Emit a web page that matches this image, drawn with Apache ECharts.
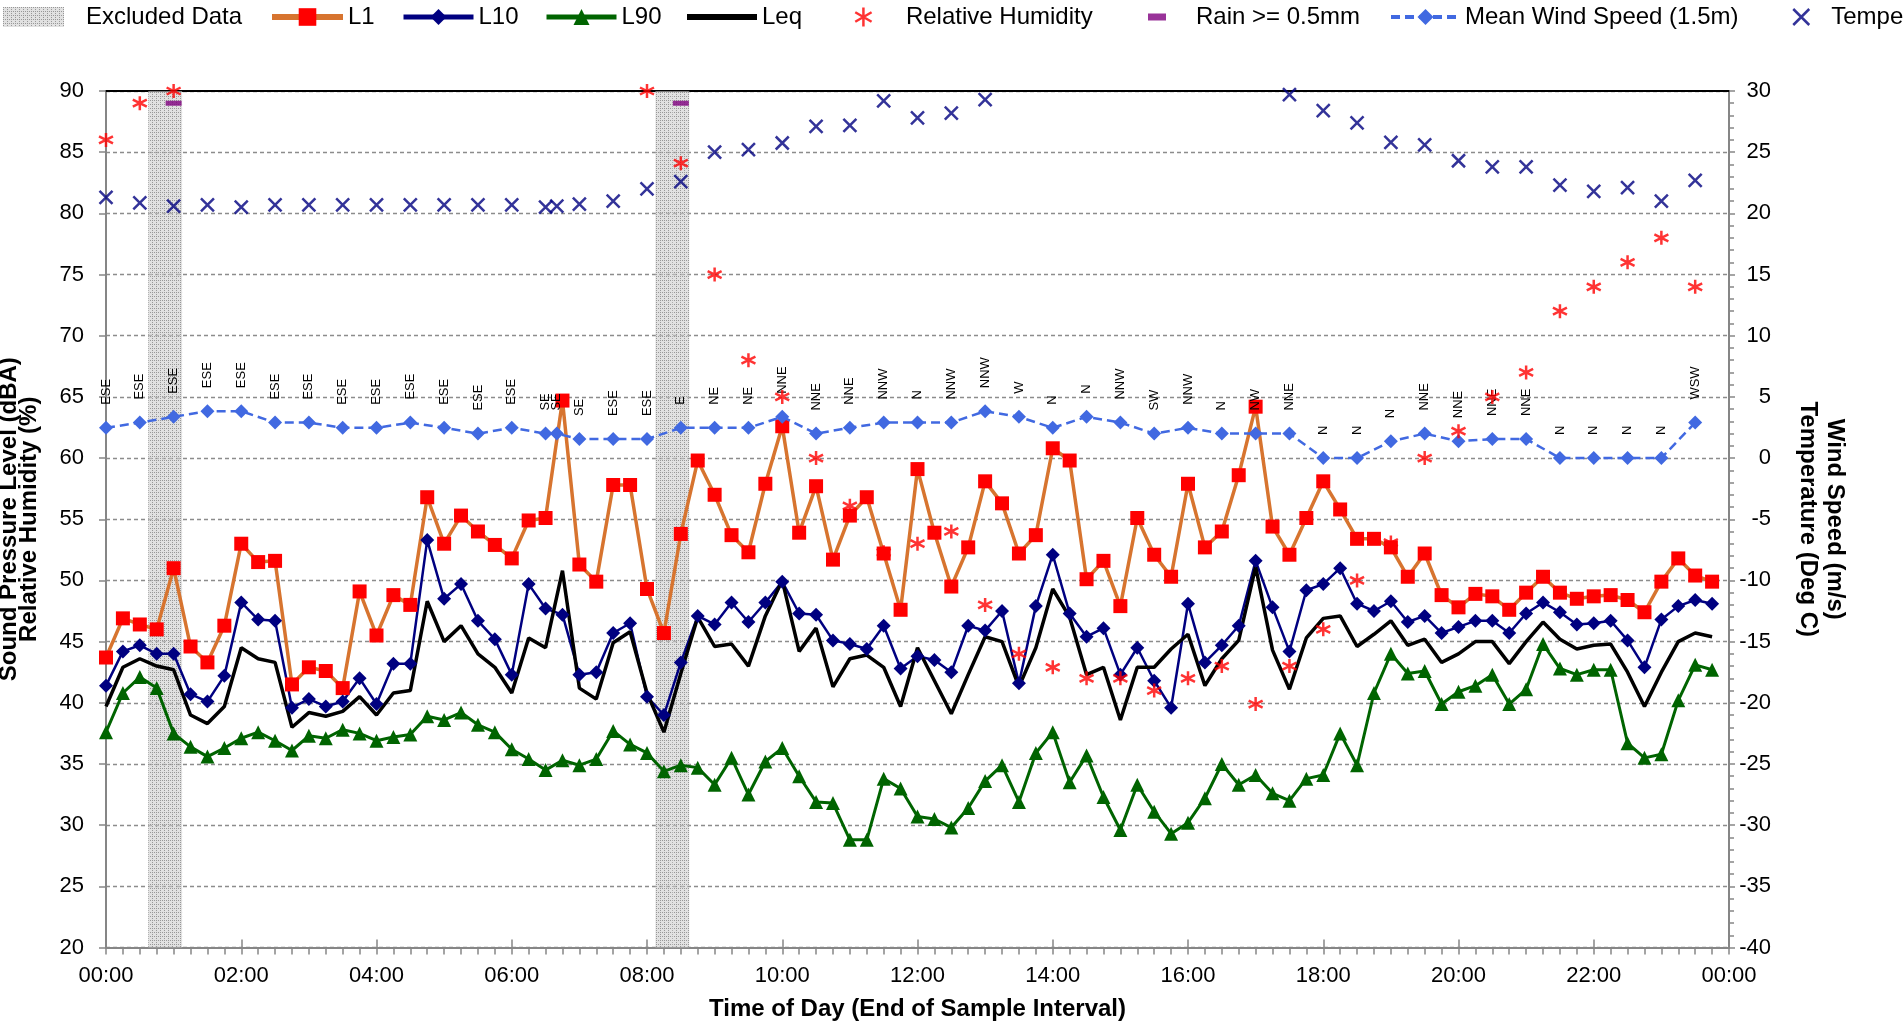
<!DOCTYPE html>
<html><head><meta charset="utf-8">
<script src="https://cdn.jsdelivr.net/npm/echarts@6/dist/echarts.min.js"></script>
<style>html,body{margin:0;padding:0;background:#fff}#c{width:1904px;height:1027px}</style>
</head><body><div id="c"></div>
<script>
// ---------- DATA ----------
const noiseTimes = ["00:00","00:15","00:30","00:45","01:00","01:15","01:30","01:45","02:00","02:15","02:30","02:45","03:00","03:15","03:30","03:45","04:00","04:15","04:30","04:45",
"05:00","05:15","05:30","05:45","06:00","06:15","06:30","06:45","07:00","07:15","07:30","07:45","08:00","08:15","08:30","08:45","09:00","09:15","09:30","09:45",
"10:00","10:15","10:30","10:45","11:00","11:15","11:30","11:45","12:00","12:15","12:30","12:45","13:00","13:15","13:30","13:45","14:00","14:15","14:30","14:45",
"15:00","15:15","15:30","15:45","16:00","16:15","16:30","16:45","17:00","17:15","17:30","17:45","18:00","18:15","18:30","18:45","19:00","19:15","19:30","19:45",
"20:00","20:15","20:30","20:45","21:00","21:15","21:30","21:45","22:00","22:15","22:30","22:45","23:00","23:15","23:30","23:45"];
const L1 = [43.7,46.9,46.4,46.0,51.0,44.6,43.3,46.3,53.0,51.5,51.6,41.5,42.9,42.6,41.2,49.1,45.5,48.8,48.0,56.8,
53.0,55.3,54.0,52.9,51.8,54.9,55.1,64.7,51.3,49.9,57.8,57.8,49.3,45.7,53.8,59.8,57.0,53.7,52.3,57.9,
62.6,53.9,57.7,51.7,55.3,56.8,52.2,47.6,59.1,53.9,49.5,52.7,58.1,56.3,52.2,53.7,60.8,59.8,50.1,51.6,
47.9,55.1,52.1,50.3,57.9,52.7,54.0,58.6,64.2,54.4,52.1,55.1,58.1,55.8,53.4,53.4,52.7,50.3,52.2,48.8,
47.8,48.9,48.7,47.6,49.0,50.3,49.0,48.5,48.7,48.8,48.4,47.4,49.9,51.8,50.4,49.9];
const L10 = [41.4,44.2,44.7,44.0,44.0,40.7,40.1,42.2,48.2,46.8,46.7,39.6,40.3,39.7,40.1,42.0,39.9,43.2,43.2,53.3,
48.5,49.7,46.7,45.2,42.3,49.7,47.7,47.2,42.3,42.5,45.7,46.5,40.5,39.0,43.3,47.1,46.4,48.2,46.6,48.2,
49.9,47.3,47.2,45.1,44.8,44.4,46.3,42.8,43.8,43.5,42.5,46.3,45.9,47.5,41.6,47.9,52.1,47.3,45.4,46.1,
42.3,44.5,41.8,39.6,48.1,43.3,44.7,46.3,51.6,47.8,44.2,49.2,49.7,51.0,48.1,47.5,48.3,46.6,47.1,45.7,
46.2,46.7,46.7,45.7,47.3,48.2,47.4,46.4,46.5,46.7,45.1,42.9,46.8,47.9,48.4,48.1];
const L90 = [37.6,40.8,42.1,41.2,37.5,36.4,35.6,36.3,37.1,37.6,36.9,36.1,37.3,37.1,37.8,37.5,36.9,37.2,37.4,38.9,
38.6,39.2,38.2,37.6,36.2,35.4,34.5,35.3,34.9,35.4,37.7,36.6,35.9,34.4,34.9,34.7,33.3,35.5,32.5,35.2,
36.3,34.0,31.9,31.8,28.8,28.8,33.8,33.0,30.7,30.5,29.8,31.4,33.6,34.9,31.9,35.9,37.6,33.5,35.7,32.3,
29.6,33.3,31.1,29.3,30.2,32.2,35.0,33.3,34.1,32.6,32.0,33.8,34.1,37.5,34.9,40.8,44.0,42.4,42.6,39.9,
40.9,41.4,42.3,39.9,41.1,44.8,42.8,42.3,42.7,42.7,36.7,35.5,35.8,40.2,43.1,42.7];
const Leq = [39.7,42.9,43.6,43.0,42.7,39.0,38.3,39.7,44.5,43.6,43.3,38.0,39.2,38.9,39.3,40.5,39.0,40.8,41.0,48.3,
45.0,46.3,44.0,42.9,40.8,45.3,44.5,50.8,41.2,40.3,44.9,45.8,40.8,37.6,42.4,47.0,44.6,44.8,43.0,47.1,
50.0,44.2,46.1,41.3,43.6,43.9,42.9,39.7,44.5,41.8,39.1,42.3,45.4,45.0,41.3,44.5,49.3,47.0,42.3,42.9,
38.6,42.9,42.9,44.4,45.6,41.4,43.6,45.1,51.1,44.3,41.1,45.3,46.9,47.1,44.6,45.6,46.7,44.7,45.2,43.3,
44.0,45.0,45.0,43.2,45.0,46.6,45.2,44.4,44.7,44.8,42.5,39.7,42.5,45.0,45.7,45.4];

const weatherTimes = ["00:00","00:30","01:00","01:30","02:00","02:30","03:00","03:30","04:00","04:30","05:00","05:30","06:00","06:30","06:40",
"07:00","07:30","08:00","08:30","09:00","09:30","10:00","10:30","11:00","11:30","12:00","12:30","13:00","13:30","14:00","14:30",
"15:00","15:30","16:00","16:30","17:00","17:30","18:00","18:30","19:00","19:30","20:00","20:30","21:00","21:30","22:00","22:30","23:00","23:30"];
const relHumidity = [86.0,89.0,90.0,null,null,null,null,null,null,null,null,null,null,null,null,
null,null,90.0,84.1,75.0,68.0,65.0,60.0,56.1,52.3,53.0,54.0,48.0,44.0,42.9,42.0,
42.0,41.0,42.0,43.0,39.9,43.0,46.0,50.0,53.1,60.0,62.2,65.0,67.0,72.0,74.0,76.0,78.0,74.0];
const windSpeed = [2.47,2.9,3.37,3.83,3.83,2.9,2.9,2.47,2.47,2.9,2.47,2.0,2.47,2.0,2.0,
1.55,1.55,1.55,2.47,2.47,2.47,3.37,2.0,2.47,2.9,2.9,2.9,3.83,3.37,2.47,3.37,
2.9,2.0,2.47,2.0,2.0,2.0,0,0,1.38,2.0,1.38,1.55,1.55,0,0,0,0,2.9];
const windDir = ["ESE","ESE","ESE","ESE","ESE","ESE","ESE","ESE","ESE","ESE","ESE","ESE","ESE","SE","SE",
"SE","ESE","ESE","E","NE","NE","NNE","NNE","NNE","NNW","N","NNW","NNW","W","N","N",
"NNW","SW","NNW","N","NW","NNE","N","N","N","NNE","NNE","NNE","NNE","N","N","N","N","WSW"];
const temperature = [21.3,20.85,20.6,20.7,20.5,20.7,20.7,20.7,20.7,20.7,20.7,20.7,20.7,20.5,20.6,
20.75,21.0,22.0,22.6,25.0,25.2,25.75,27.1,27.2,29.2,27.8,28.2,29.3,null,null,null,
null,null,null,null,null,29.7,28.4,27.4,25.8,25.6,24.3,23.8,23.8,22.3,21.8,22.1,21.0,22.7];
const rainTimes = ["01:00","08:30"];
const rainMarkLevel = 89;
const excludedTimes = ["00:45","01:00","08:15","08:30"];
const xTickLabels = ["00:00","02:00","04:00","06:00","08:00","10:00","12:00","14:00","16:00","18:00","20:00","22:00","00:00"];

// ---------- HELPERS ----------
const FONT = '"Liberation Sans", Arial, Helvetica, sans-serif';
const toH = t => { const p = t.split(':'); return (+p[0]) + (+p[1]) / 60; };
const pairs = (times, vals) => times.map((t, i) => [toH(t), vals[i]]).filter(d => d[1] != null);
const SAMPLE_HALF = 0.125; // half of a 15-minute sample interval, in hours

// hatch pattern for excluded data
const pc = document.createElement('canvas'); pc.width = 4; pc.height = 4;
const g = pc.getContext('2d');
g.fillStyle = 'rgba(205,205,205,0.6)'; g.fillRect(0, 0, 4, 4);
g.fillStyle = 'rgba(135,135,135,0.8)';
g.fillRect(0, 0, 1, 1); g.fillRect(2, 0, 1, 1); g.fillRect(0, 2, 1, 1);
const hatch = { image: pc, repeat: 'repeat' };

const xPath = 'path://M0,0L10,10M10,0L0,10';
const starPath = 'path://M5,0L5,10M0.7,2.5L9.3,7.5M0.7,7.5L9.3,2.5';

const chart = echarts.init(document.getElementById('c'), null, { renderer: 'canvas', width: 1904, height: 1027 });

function lg(item, left, w, h, pad, extra) {
  return Object.assign({
    show: true, left: left, top: 5, padding: 0, itemWidth: w, itemHeight: h, itemGap: 0,
    selectedMode: false, data: [item],
    textStyle: { fontFamily: FONT, fontSize: 24, color: '#000', padding: [0, 0, 0, pad] }
  }, extra || {});
}

const axisGray = '#868686';

const option = {
  animation: false,
  backgroundColor: '#ffffff',
  textStyle: { fontFamily: FONT },
  grid: { left: 106, right: 175, top: 91, bottom: 79.5, containLabel: false, outerBoundsMode: 'none' },
  legend: [
    lg({ name: 'Excluded Data', icon: 'rect' }, 3, 61, 20, 17),
    lg({ name: 'L1', lineStyle: { width: 6, color: '#d7742f' } }, 269, 71, 22, 0, { lineStyle: { width: 6 } }),
    lg({ name: 'L10', lineStyle: { width: 5, color: '#000080' } }, 401, 70, 20, 0, { lineStyle: { width: 5 } }),
    lg({ name: 'L90', lineStyle: { width: 5, color: '#006400' } }, 544, 70, 20, 0, { lineStyle: { width: 5 } }),
    lg({ name: 'Leq', icon: 'rect' }, 687, 70, 6, 0),
    lg({ name: 'Relative Humidity', icon: starPath, itemStyle: { color: 'rgba(0,0,0,0)', borderColor: '#ff0000', borderWidth: 2.5 } }, 854, 19, 19, 28),
    lg({ name: 'Rain >= 0.5mm', icon: 'rect' }, 1148, 18, 7, 25),
    lg({ name: 'Mean Wind Speed (1.5m)', lineStyle: { width: 4, color: '#4169e1', type: [9, 5] } }, 1389, 69, 20, 0, { lineStyle: { width: 4 } }),
    lg({ name: 'Temperature', icon: xPath, itemStyle: { color: 'rgba(0,0,0,0)', borderColor: '#000080', borderWidth: 2.5 } }, 1792, 16, 16, 17)
  ],
  xAxis: [
    {
      type: 'value', position: 'bottom', min: 0, max: 24, interval: 2,
      axisLine: { show: true, onZero: false, lineStyle: { color: axisGray, width: 2 } },
      axisTick: { show: true, length: 7, lineStyle: { color: axisGray, width: 1.5 } },
      minorTick: { show: true, splitNumber: 8, length: 7, lineStyle: { color: axisGray, width: 1.5 } },
      splitLine: { show: false }, minorSplitLine: { show: false },
      axisLabel: { fontSize: 22, color: '#000', margin: 17, fontFamily: FONT,
        formatter: v => xTickLabels[Math.round(v / 2)] },
      name: 'Time of Day (End of Sample Interval)', nameLocation: 'middle', nameGap: 50,
      nameTextStyle: { fontSize: 24, fontWeight: 'bold', color: '#000', fontFamily: FONT }
    },
    {
      type: 'value', position: 'top', min: 0, max: 24, interval: 2,
      axisLine: { show: true, onZero: false, lineStyle: { color: '#000', width: 2 } },
      axisTick: { show: false }, axisLabel: { show: false }, splitLine: { show: false }
    },
    {
      type: 'value', position: 'bottom', min: 0, max: 24, interval: 2,
      axisLine: { show: false, onZero: false },
      axisTick: { show: true, inside: true, length: 8, lineStyle: { color: axisGray, width: 1.5 } },
      axisLabel: { show: false }, splitLine: { show: false }
    }
  ],
  yAxis: [
    {
      type: 'value', position: 'left', min: 20, max: 90, interval: 5,
      axisLine: { show: true, onZero: false, lineStyle: { color: axisGray, width: 2 } },
      axisTick: { show: true, length: 7, lineStyle: { color: axisGray, width: 1.5 } },
      splitLine: { show: true, lineStyle: { color: '#8c8c8c', width: 1.3, type: [4, 3] } },
      axisLabel: { fontSize: 22, color: '#000', margin: 22, fontFamily: FONT },
      name: 'Sound Pressure Level (dBA)\nRelative Humidity (%)', nameLocation: 'middle', nameRotate: 90, nameGap: 67,
      nameTextStyle: { fontSize: 24, fontWeight: 'bold', color: '#000', lineHeight: 20, fontFamily: FONT }
    },
    {
      type: 'value', position: 'right', min: -40, max: 30, interval: 5,
      axisLine: { show: true, onZero: false, lineStyle: { color: axisGray, width: 2 } },
      axisTick: { show: true, length: 6, lineStyle: { color: axisGray, width: 1.5 } },
      minorTick: { show: true, splitNumber: 5, length: 5, lineStyle: { color: axisGray, width: 1.5 } },
      splitLine: { show: false },
      axisLabel: { fontSize: 22, color: '#000', margin: 42, align: 'right', fontFamily: FONT },
      name: 'Wind Speed (m/s)\nTemperature (Deg C)', nameLocation: 'middle', nameRotate: -90, nameGap: 65,
      nameTextStyle: { fontSize: 24, fontWeight: 'bold', color: '#000', lineHeight: 27, fontFamily: FONT }
    }
  ],
  series: [
    {
      name: 'Excluded Data', type: 'custom', xAxisIndex: 0, yAxisIndex: 0, z: 1,
      data: excludedTimes.map(t => [toH(t)]),
      itemStyle: { color: hatch },
      renderItem: function (params, api) {
        const t = api.value(0);
        const p0 = api.coord([t - SAMPLE_HALF, 90]);
        const p1 = api.coord([t + SAMPLE_HALF, 20]);
        return { type: 'rect', shape: { x: p0[0], y: p0[1], width: p1[0] - p0[0], height: p1[1] - p0[1] }, style: api.style() };
      }
    },
    {
      name: 'L1', type: 'line', xAxisIndex: 0, yAxisIndex: 0, z: 3,
      data: pairs(noiseTimes, L1),
      symbol: 'rect', symbolSize: 14, showAllSymbol: true,
      itemStyle: { color: '#ff0000' },
      lineStyle: { color: '#d7742f', width: 3.5 }
    },
    {
      name: 'L10', type: 'line', xAxisIndex: 0, yAxisIndex: 0, z: 3,
      data: pairs(noiseTimes, L10),
      symbol: 'diamond', symbolSize: 14, showAllSymbol: true,
      itemStyle: { color: '#000080' },
      lineStyle: { color: '#000080', width: 2.5 }
    },
    {
      name: 'L90', type: 'line', xAxisIndex: 0, yAxisIndex: 0, z: 3,
      data: pairs(noiseTimes, L90),
      symbol: 'triangle', symbolSize: 14, showAllSymbol: true,
      itemStyle: { color: '#006400' },
      lineStyle: { color: '#006400', width: 3 }
    },
    {
      name: 'Leq', type: 'line', xAxisIndex: 0, yAxisIndex: 0, z: 3,
      data: pairs(noiseTimes, Leq),
      symbol: 'none',
      itemStyle: { color: '#000000' },
      lineStyle: { color: '#000000', width: 3.5 }
    },
    {
      name: 'Mean Wind Speed (1.5m)', type: 'line', xAxisIndex: 0, yAxisIndex: 1, z: 4,
      data: pairs(weatherTimes, windSpeed),
      symbol: 'diamond', symbolSize: 14, showAllSymbol: true,
      itemStyle: { color: '#4169e1' },
      lineStyle: { color: '#4169e1', width: 2.5, type: [9, 5] },
      label: {
        show: true, position: 'top', distance: 16, rotate: 90, align: 'left', verticalAlign: 'middle',
        fontSize: 13, color: '#000', fontFamily: FONT,
        formatter: p => windDir[p.dataIndex]
      }
    },
    {
      name: 'Relative Humidity', type: 'scatter', xAxisIndex: 0, yAxisIndex: 0, z: 5,
      data: pairs(weatherTimes, relHumidity),
      symbol: starPath, symbolSize: 14,
      itemStyle: { color: 'rgba(0,0,0,0)', borderColor: '#ff0000', borderWidth: 2.5 }
    },
    {
      name: 'Temperature', type: 'scatter', xAxisIndex: 0, yAxisIndex: 1, z: 5,
      data: pairs(weatherTimes, temperature),
      symbol: xPath, symbolSize: 13,
      itemStyle: { color: 'rgba(0,0,0,0)', borderColor: '#000080', borderWidth: 2.5 }
    },
    {
      name: 'Rain >= 0.5mm', type: 'scatter', xAxisIndex: 0, yAxisIndex: 0, z: 5,
      data: rainTimes.map(t => [toH(t), rainMarkLevel]),
      symbol: 'rect', symbolSize: [16, 5],
      itemStyle: { color: '#7f007f' }
    }
  ]
};
chart.setOption(option);
</script>
</body></html>
